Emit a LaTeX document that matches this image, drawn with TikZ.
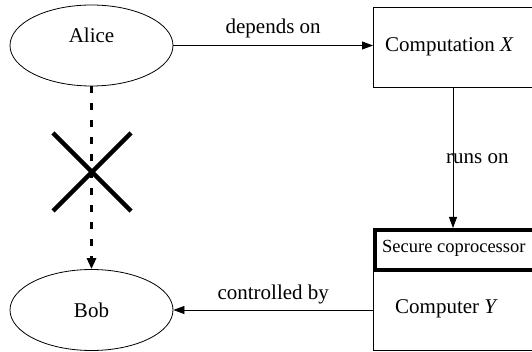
\documentclass[tikz,border=0pt]{standalone}
\usepackage{fontspec}
\setmainfont{Liberation Serif}
\usetikzlibrary{shapes.geometric,arrows.meta,calc}

\tikzset{
  txt/.style={font=\fontsize{21}{25}\selectfont, inner sep=0pt},
  smalltxt/.style={font=\fontsize{18.5}{22}\selectfont, inner sep=0pt},
  person/.style={draw, ellipse, line width=0.8pt, minimum width=163pt, minimum height=81pt, inner sep=0pt},
  box/.style={draw, line width=0.8pt, inner sep=0pt},
  link/.style={line width=0.8pt, -{Triangle[length=11pt,width=8pt]}},
  denied/.style={line width=3pt, dash pattern=on 7pt off 10pt, -{Triangle[length=11pt,width=9pt]}},
  cross/.style={line width=4.5pt}
}

\begin{document}
\begin{tikzpicture}[x=1pt,y=-1pt]
  \useasboundingbox (0,0) rectangle (532,352);

  % people
  \node[person] (alice) at (91.5,45.5) {};
  \node[txt] (alicetxt) at (91.5,35) {Alice};
  \node[person] (bob) at (91.5,310) {};
  \node[txt] (bobtxt) at (91.5,310) {Bob};

  % computation and computer (right side runs past the page edge)
  \node[box, minimum width=162pt, minimum height=80pt, anchor=north west] (comp) at (373,7) {};
  \node[txt, anchor=west] (comptxt) at (385,47) {Computation \textit{X}};

  \node[box, minimum width=162pt, minimum height=82pt, anchor=north west] (computer) at (373,268) {};
  \node[txt, anchor=west] (computertxt) at (395,309) {Computer \textit{Y}};

  \node[draw, line width=4pt, inner sep=0pt, minimum width=164pt, minimum height=40pt, anchor=north west] (secure) at (373,228) {};
  \node[smalltxt, anchor=west] (securetxt) at (382,248) {Secure coprocessor};

  % connectors
  \draw[link] (alice.east) -- node[txt, above=7pt] {depends on} (alice.east -| comp.west);
  \draw[link] (comp.south -| 453,0) coordinate (runtop) -- (runtop |- secure.north);
  \node[txt, anchor=west] (runs) at (446,159) {runs on};
  \draw[link] (computer.west |- bob.east) -- node[txt, above=6pt] {controlled by} (bob.east);

  % forbidden direct influence
  \draw[denied] (alice.south) -- (bob.north);
  \coordinate (xc) at (92,172);
  \draw[cross] ($(xc)+(-39,-39)$) -- ($(xc)+(39,39)$);
  \draw[cross] ($(xc)+(-39,39)$) -- ($(xc)+(39,-39)$);
\end{tikzpicture}
\end{document}
